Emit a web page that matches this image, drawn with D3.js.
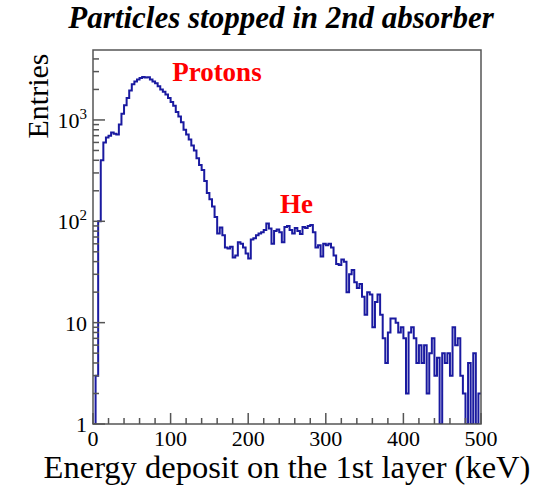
<!DOCTYPE html>
<html>
<head>
<meta charset="utf-8">
<script src="https://cdn.jsdelivr.net/npm/d3@7"></script>
<style>
  html, body { margin: 0; padding: 0; background: #fff; }
  svg { display: block; font-family: "Liberation Serif", "DejaVu Serif", serif; }
</style>
</head>
<body>
<svg id="chart" width="550" height="488"></svg>
<script>
// histogram: 150 bins from 0 to 500 keV
const xRange = [0, 500];
const counts = [
  0, 3, 100, 400, 600, 670, 700, 750, 730, 720,
  900, 1150, 1400, 1650, 1950, 2250, 2400, 2500, 2600, 2650,
  2620, 2640, 2500, 2400, 2300, 2150, 2000, 1900, 1780, 1650,
  1500, 1380, 1200, 1080, 950, 800, 720, 640, 560, 500,
  420, 360, 320, 250, 190, 165, 140, 110, 76, 87,
  73, 55, 54, 56, 44, 46, 62, 60, 55, 48,
  43, 66, 68, 73, 76, 78, 82, 95, 85, 60,
  80, 83, 78, 62, 88, 90, 82, 76, 86, 80,
  75, 88, 86, 90, 92, 78, 55, 58, 45, 60,
  58, 60, 55, 46, 38, 37, 42, 40, 20, 30,
  33, 25, 22, 24, 18, 12, 20, 19, 9, 16,
  19, 12, 7, 4, 8, 11, 11, 10, 8, 9,
  7, 2, 8, 9, 7, 4, 6, 4, 6, 2,
  5, 7, 3, 4.5, 0, 5, 4, 5, 3, 9,
  6, 7, 3, 2, 0, 4, 0, 5, 0, 2
];
const xMajor = [0, 100, 200, 300, 400, 500];
const yMajor = [1, 10, 100, 1000];
const yLabels = [["1", ""], ["10", ""], ["10", "2"], ["10", "3"]];
const notes = [
  { text: "Protons", x: 102, y: 2450 },
  { text: "He", x: 241, y: 122 }
];

const svg = d3.select("#chart");
const L = 93, R = 481, T = 50, B = 424;

const x = d3.scaleLinear().domain(xRange).range([L, R]);
const y = d3.scaleLog().domain([1, 4900]).range([B, T]);

const binW = (xRange[1] - xRange[0]) / counts.length;
const pts = counts.map((c, i) => [xRange[0] + i * binW, c]);
pts.push([xRange[1], counts[counts.length - 1]]);

svg.append("clipPath").attr("id", "clip")
  .append("rect").attr("x", L).attr("y", T).attr("width", R - L).attr("height", B - T);

const line = d3.line()
  .x(d => x(d[0]))
  .y(d => d[1] >= 1 ? y(d[1]) : B)
  .curve(d3.curveStepAfter);

svg.append("path")
  .attr("clip-path", "url(#clip)")
  .attr("d", line(pts))
  .attr("fill", "none")
  .attr("stroke", "#1a1aa0")
  .attr("stroke-width", 2);

// frame
const frame = svg.append("g").attr("stroke", "#555").attr("stroke-width", 1.5).attr("fill", "none");
frame.append("rect").attr("x", L).attr("y", T).attr("width", R - L).attr("height", B - T);

// x ticks
const xMinor = d3.range(0, 501, 20).filter(v => v % 100 !== 0);
frame.selectAll(".xmaj").data(xMajor).join("line")
  .attr("x1", d => x(d)).attr("x2", d => x(d)).attr("y1", B).attr("y2", B - 11);
frame.selectAll(".xmin").data(xMinor).join("line")
  .attr("x1", d => x(d)).attr("x2", d => x(d)).attr("y1", B).attr("y2", B - 6);

// y ticks
const yMinor = [];
for (const dec of yMajor) for (let k = 2; k <= 9; k++) if (dec * k < 4900) yMinor.push(dec * k);
frame.selectAll(".ymaj").data(yMajor).join("line")
  .attr("x1", L).attr("x2", L + 12).attr("y1", d => y(d)).attr("y2", d => y(d));
frame.selectAll(".ymin").data(yMinor).join("line")
  .attr("x1", L).attr("x2", L + 6).attr("y1", d => y(d)).attr("y2", d => y(d));

// tick labels
svg.selectAll(".xl").data(xMajor).join("text")
  .attr("x", d => x(d)).attr("y", 446)
  .attr("text-anchor", "middle").attr("font-size", 22)
  .text(d => d);

const yl = svg.selectAll(".yl").data(yMajor).join("text")
  .attr("x", 87).attr("y", d => y(d) + 8)
  .attr("text-anchor", "end").attr("font-size", 22);
yl.append("tspan").text((d, i) => yLabels[i][0]);
yl.append("tspan").attr("dy", -9).attr("font-size", 15).text((d, i) => yLabels[i][1]);

// axis titles
svg.append("text").attr("x", 287).attr("y", 478)
  .attr("text-anchor", "middle").attr("font-size", 32.5)
  .text("Energy deposit on the 1st layer (keV)");
svg.append("text")
  .attr("transform", "translate(48,96) rotate(-90)")
  .attr("text-anchor", "middle").attr("font-size", 30)
  .text("Entries");

// title
svg.append("text").attr("x", 281).attr("y", 28)
  .attr("text-anchor", "middle").attr("font-size", 31)
  .attr("font-weight", "bold").attr("font-style", "italic")
  .text("Particles stopped in 2nd absorber");

// annotations
svg.selectAll(".note").data(notes).join("text")
  .attr("x", d => x(d.x)).attr("y", d => y(d.y))
  .attr("font-size", 27).attr("font-weight", "bold").attr("fill", "#f00")
  .text(d => d.text);
</script>
</body>
</html>
